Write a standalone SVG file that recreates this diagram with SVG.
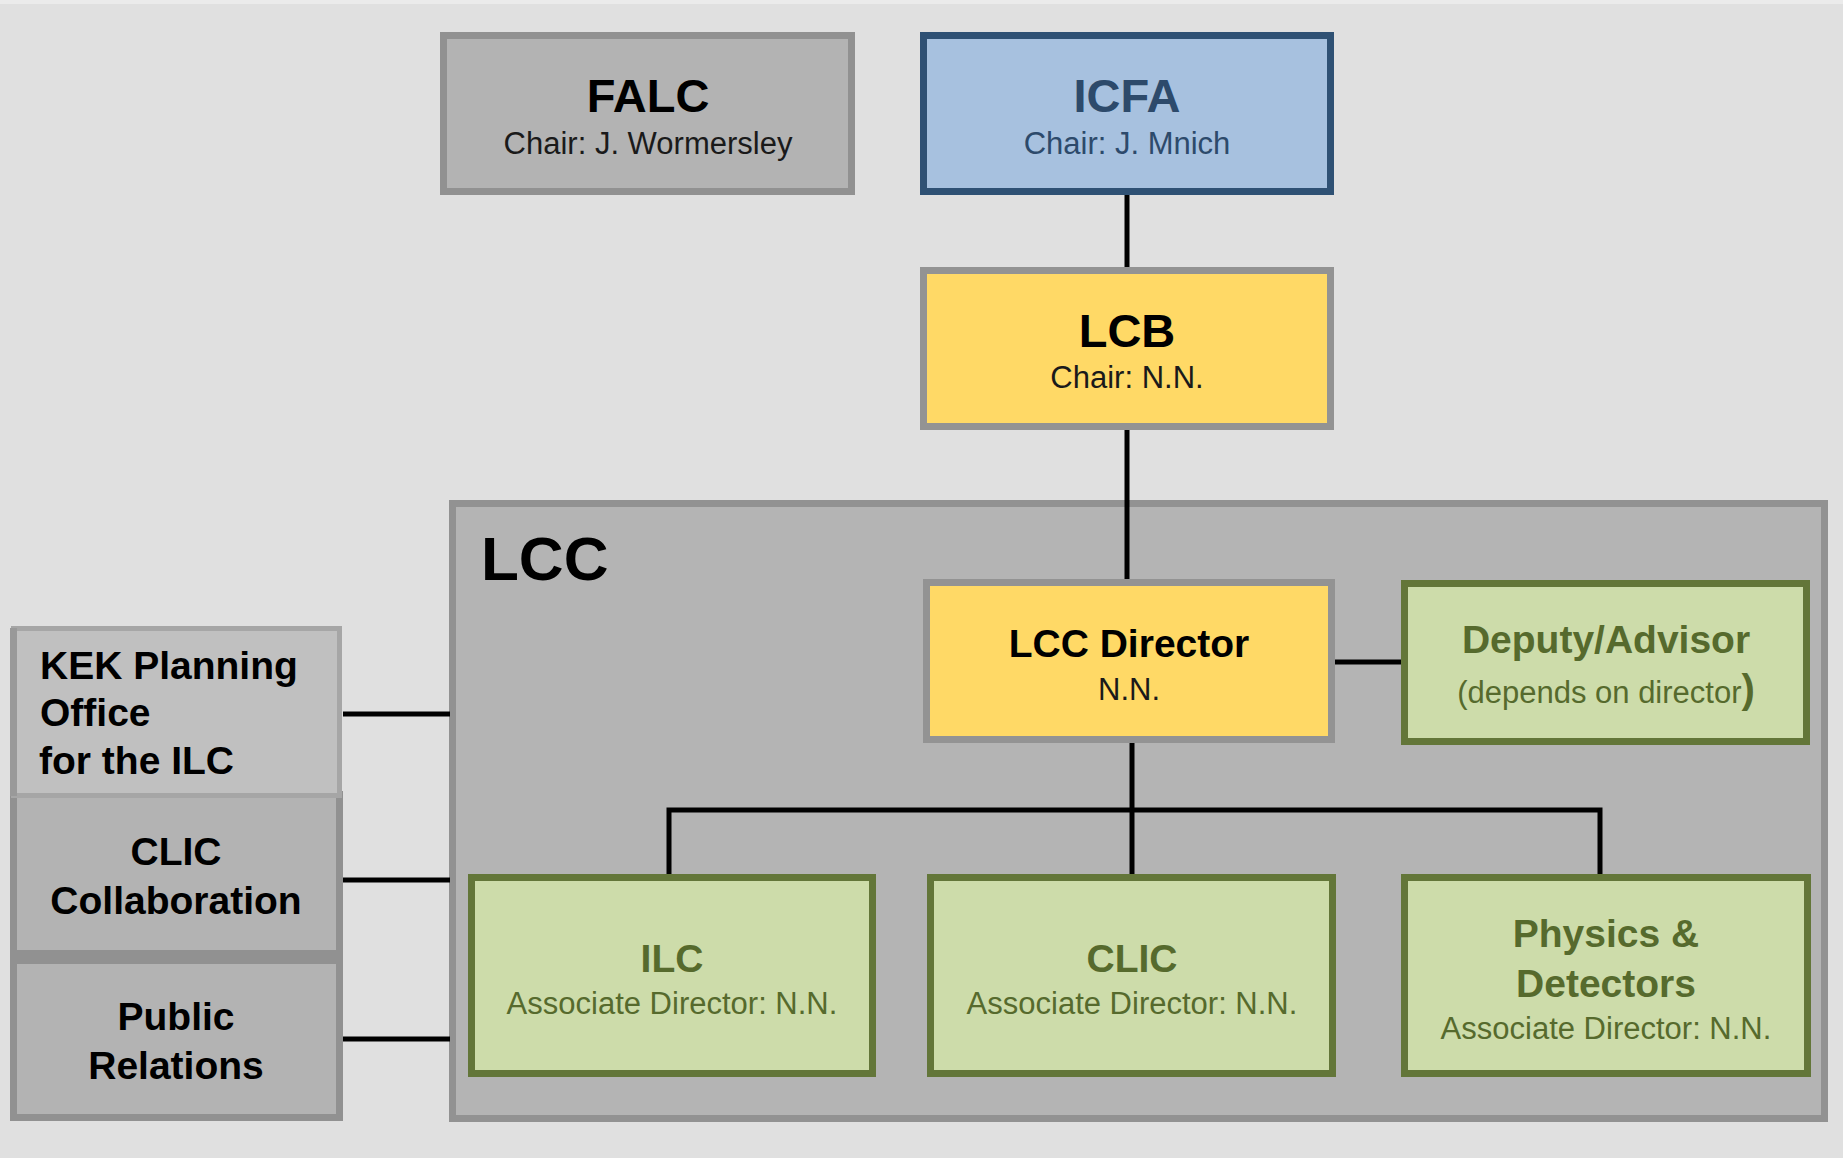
<svg xmlns="http://www.w3.org/2000/svg" width="1843" height="1158" viewBox="0 0 1843 1158">
  <style>
    text { font-family: "Liberation Sans", Arial, sans-serif; }
    .t { font-weight: bold; text-anchor: middle; }
    .big { font-size: 47px; }
    .mid { font-size: 39px; }
    .sub { font-size: 31px; text-anchor: middle; }
    .gray { fill: #b3b3b3; stroke: #919191; stroke-width: 7; }
    .yellow { fill: #ffd966; stroke: #939393; stroke-width: 7; }
    .green { fill: #cddcaa; stroke: #637639; stroke-width: 7; }
    .blue { fill: #a7c1df; stroke: #2f5174; stroke-width: 7; }
    .gtxt { fill: #566a2d; }
    .btxt { fill: #2d4a6b; }
    .ktxt { fill: #000000; }
    .conn { fill: none; stroke: #000000; stroke-width: 5; }
  </style>
  <rect x="0" y="0" width="1843" height="1158" fill="#e0e0e0"/>
  <rect x="0" y="0" width="1843" height="4" fill="#ebebeb"/>

  <g id="lcc">
    <rect x="452.5" y="503.5" width="1372" height="615" fill="#b4b4b4" stroke="#929292" stroke-width="7"/>
    <text x="481" y="580" font-size="62" font-weight="bold" fill="#000">LCC</text>
  </g>

  <g id="connectors">
    <path class="conn" d="M1127 195 V268" stroke-width="4"/>
    <path class="conn" d="M1127 430 V580" stroke-width="4"/>
    <path class="conn" d="M1335 662 H1401"/>
    <path class="conn" d="M1132 743 V875"/>
    <path class="conn" d="M669 875 V810 H1600 V875"/>
    <path class="conn" d="M343 714 H450"/>
    <path class="conn" d="M343 880 H450"/>
    <path class="conn" d="M343 1039 H450"/>
  </g>

  <g id="falc">
    <rect class="gray" x="443.5" y="35.5" width="408" height="156"/>
    <text class="t big ktxt" x="648" y="112">FALC</text>
    <text class="sub" x="648" y="154" fill="#1a1a1a">Chair: J. Wormersley</text>
  </g>

  <g id="icfa">
    <rect class="blue" x="923.5" y="35.5" width="407" height="156"/>
    <text class="t big btxt" x="1127" y="112">ICFA</text>
    <text class="sub btxt" x="1127" y="154">Chair: J. Mnich</text>
  </g>

  <g id="lcb">
    <rect class="yellow" x="923.5" y="270.5" width="407" height="156"/>
    <text class="t big ktxt" x="1127" y="347">LCB</text>
    <text class="sub" x="1127" y="388" fill="#1a1a1a">Chair: N.N.</text>
  </g>

  <g id="lcc-director">
    <rect class="yellow" x="926.5" y="582.5" width="405" height="157"/>
    <text class="t mid ktxt" x="1129" y="657">LCC Director</text>
    <text class="sub" x="1129" y="700" fill="#1a1a1a">N.N.</text>
  </g>

  <g id="deputy">
    <rect class="green" x="1404.5" y="583.5" width="402" height="158"/>
    <text class="t mid gtxt" x="1606" y="653">Deputy/Advisor</text>
    <text class="sub gtxt" x="1606" y="703">(depends on director<tspan font-size="40" font-weight="bold">)</tspan></text>
  </g>

  <g id="ilc">
    <rect class="green" x="471.5" y="877.5" width="401" height="196"/>
    <text class="t mid gtxt" x="672" y="972">ILC</text>
    <text class="sub gtxt" x="672" y="1014">Associate Director: N.N.</text>
  </g>

  <g id="clic">
    <rect class="green" x="930.5" y="877.5" width="402" height="196"/>
    <text class="t mid gtxt" x="1132" y="972">CLIC</text>
    <text class="sub gtxt" x="1132" y="1014">Associate Director: N.N.</text>
  </g>

  <g id="physics">
    <rect class="green" x="1404.5" y="877.5" width="403" height="196"/>
    <text class="t mid gtxt" x="1606" y="947">Physics &amp;</text>
    <text class="t mid gtxt" x="1606" y="997">Detectors</text>
    <text class="sub gtxt" x="1606" y="1039">Associate Director: N.N.</text>
  </g>

  <g id="public-relations">
    <rect class="gray" x="13.5" y="960.5" width="326" height="157"/>
    <text class="t mid ktxt" x="176" y="1030">Public</text>
    <text class="t mid ktxt" x="176" y="1079">Relations</text>
  </g>

  <g id="clic-collaboration">
    <rect class="gray" x="13.5" y="794.5" width="326" height="159"/>
    <text class="t mid ktxt" x="176" y="865">CLIC</text>
    <text class="t mid ktxt" x="176" y="914">Collaboration</text>
  </g>

  <g id="kek">
    <rect x="13.5" y="628.5" width="326" height="167" fill="#c0c0c0" stroke="#a6a6a6" stroke-width="5"/>
    <path d="M13.5 628 V796" stroke="#999999" stroke-width="7"/>
    <text x="40" y="679" font-size="39" font-weight="bold" fill="#000">KEK Planning</text>
    <text x="40" y="726" font-size="39" font-weight="bold" fill="#000">Office</text>
    <text x="39" y="774" font-size="39" font-weight="bold" fill="#000">for the ILC</text>
  </g>
</svg>
